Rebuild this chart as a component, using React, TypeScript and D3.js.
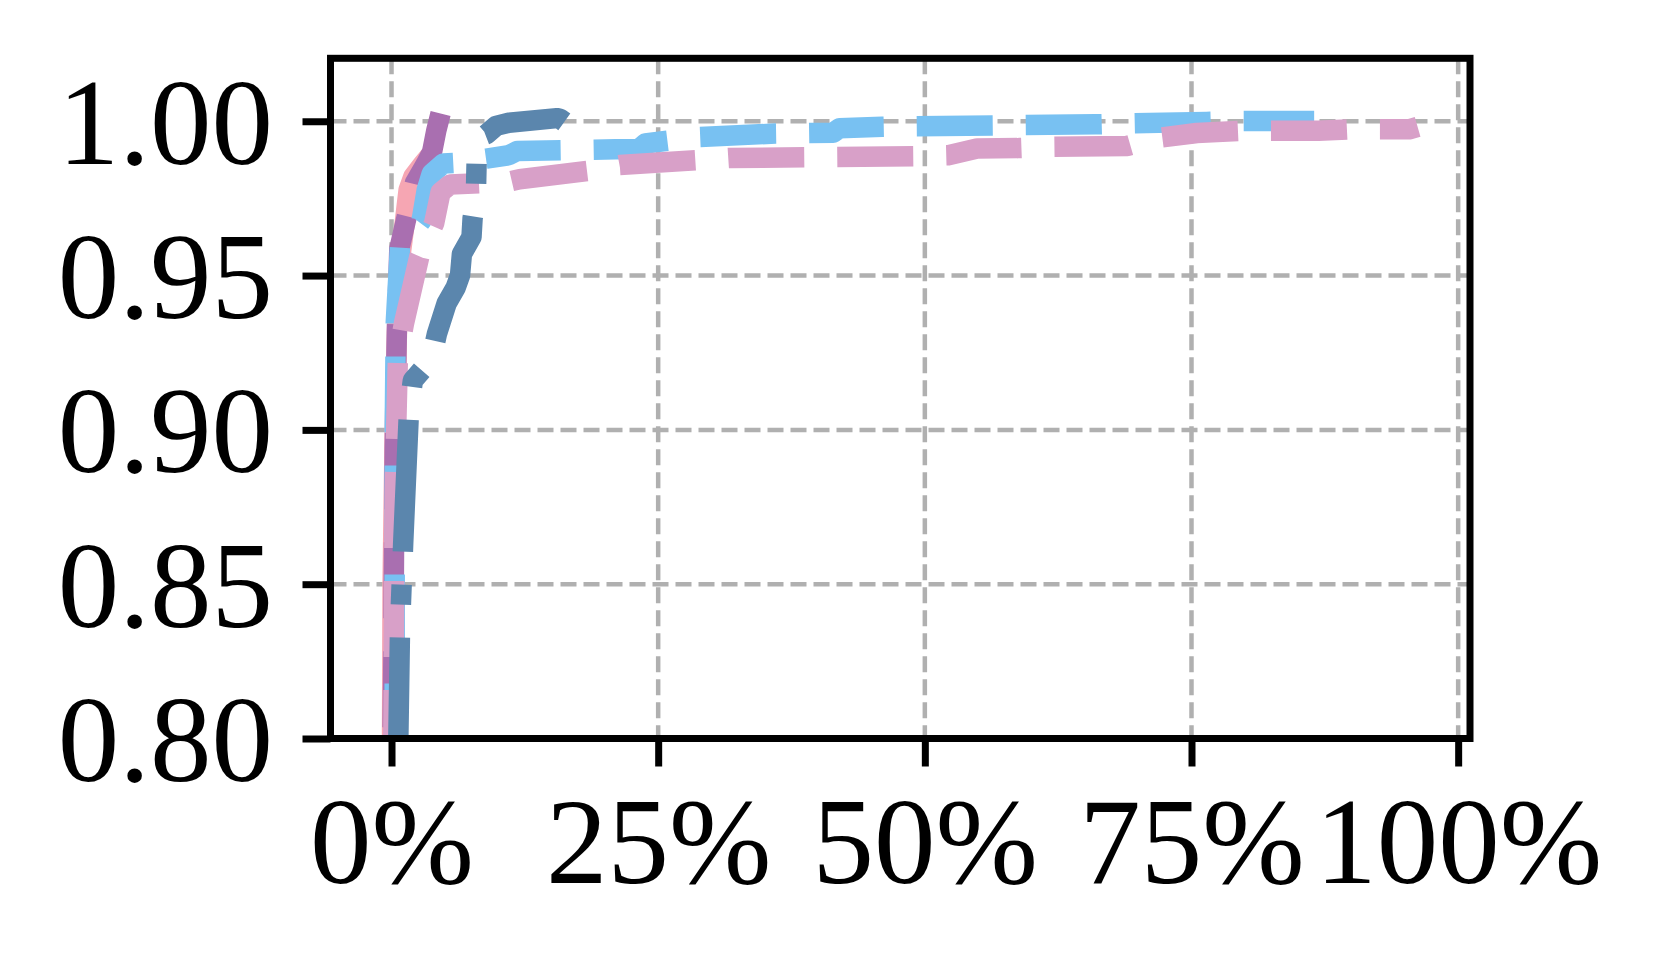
import React, { useEffect, useRef } from "react";
import * as d3 from "d3";

// x values are shares (0..1), y values are the measured level
const pinkX = [0.0005, 0.001, 0.003, 0.0055, 0.009, 0.0127, 0.016, 0.0205, 0.03, 0.038, 0.041];
const pinkY = [0.8, 0.85, 0.9, 0.9377, 0.958, 0.968, 0.9777, 0.982, 0.9863, 0.9896, 0.991];

const purpleX = [0.001, 0.0017, 0.0023, 0.003, 0.005, 0.0073, 0.0142, 0.022, 0.032, 0.038, 0.042, 0.046];
const purpleY = [0.8, 0.825, 0.859, 0.894, 0.932, 0.9586, 0.969, 0.98, 0.986, 0.99, 0.997, 1.0025];

const lightBlueX = [
  0.003, 0.003, 0.004, 0.008, 0.013, 0.024, 0.0283, 0.033, 0.0377, 0.0486, 0.0595, 0.089, 0.11, 0.118,
  0.21, 0.232, 0.238, 0.287, 0.36, 0.414, 0.42, 0.46, 0.49, 0.66, 0.694, 0.764, 0.795, 0.865,
];
const lightBlueY = [
  0.8, 0.9, 0.935, 0.9598, 0.963, 0.966, 0.968, 0.9777, 0.983, 0.9863, 0.9865, 0.9879, 0.989, 0.9904,
  0.9909, 0.991, 0.9928, 0.9949, 0.996, 0.9963, 0.9977, 0.9982, 0.9984, 0.999, 0.9993, 0.9998, 1.0001, 1.0001,
];

const lavenderX = [
  0.0017, 0.003, 0.006, 0.0117, 0.026, 0.04, 0.046, 0.055, 0.086, 0.105, 0.12, 0.186, 0.214, 0.286,
  0.317, 0.49, 0.522, 0.549, 0.588, 0.62, 0.69, 0.714, 0.755, 0.799, 0.869, 0.899, 0.954, 0.962,
];
const lavenderY = [
  0.8, 0.88, 0.9237, 0.9345, 0.956, 0.967, 0.977, 0.9795, 0.98, 0.98, 0.9812, 0.984, 0.9858, 0.9874,
  0.9881, 0.9887, 0.989, 0.9912, 0.9913, 0.9917, 0.992, 0.9944, 0.9962, 0.9969, 0.9969, 0.9974, 0.9974, 0.9982,
];

const steelX = [
  0.0064, 0.008, 0.0095, 0.011, 0.0164, 0.02, 0.03, 0.038, 0.0425, 0.0517, 0.06, 0.0642, 0.066, 0.075,
  0.076, 0.079, 0.08, 0.083, 0.089, 0.098, 0.11, 0.155, 0.158, 0.162,
];
const steelY = [
  0.8, 0.836, 0.85, 0.8637, 0.9064, 0.916, 0.92, 0.924, 0.931, 0.941, 0.946, 0.95, 0.957, 0.9625,
  0.9685, 0.975, 0.99, 0.995, 0.9958, 0.9985, 0.9995, 1.001, 1.0008, 0.9998,
];

const xTicks = [0, 0.25, 0.5, 0.75, 1];
const yTicks = [0.8, 0.85, 0.9, 0.95, 1.0];

// anchor: a dash starts where the path first reaches this share on x ("end" = a dash ends at the path end)
const series = [
  { name: "pink", xs: pinkX, ys: pinkY, color: "#f6a6b3", dash: null, anchor: null },
  { name: "purple", xs: purpleX, ys: purpleY, color: "#a96fb0", dash: [76, 33], anchor: "end" },
  { name: "lightblue", xs: lightBlueX, ys: lightBlueY, color: "#78c1f2", dash: [76, 33], anchor: 0.4922 },
  { name: "lavender", xs: lavenderX, ys: lavenderY, color: "#d8a0c8", dash: [76, 33], anchor: 0.5199 },
  { name: "steel", xs: steelX, ys: steelY, color: "#5b86ad", dash: [132, 33, 20, 33], anchor: 0.0876 },
];

const App = () => {
  const ref = useRef<SVGSVGElement>(null);

  useEffect(() => {
    const width = 1661;
    const height = 967;
    const left = 330.5;
    const right = 1470;
    const top = 58.3;
    const bottom = 738.5;

    const x = d3.scaleLinear().domain([-0.0572, 1.0111]).range([left, right]);
    const y = d3.scaleLinear().domain([0.8, 1.0204]).range([bottom, top]);

    const svg = d3.select(ref.current).attr("width", width).attr("height", height);
    svg.selectAll("*").remove();

    svg
      .append("defs")
      .append("clipPath")
      .attr("id", "plotclip")
      .append("rect")
      .attr("x", left)
      .attr("y", top)
      .attr("width", right - left)
      .attr("height", bottom - top);

    // grid
    const grid = svg.append("g").attr("stroke", "#b0b0b0").attr("stroke-width", 4.5).attr("stroke-dasharray", "16,7");
    grid
      .selectAll("line.gx")
      .data(xTicks)
      .join("line")
      .attr("class", "gx")
      .attr("x1", (d) => x(d))
      .attr("x2", (d) => x(d))
      .attr("y1", top)
      .attr("y2", bottom);
    grid
      .selectAll("line.gy")
      .data(yTicks)
      .join("line")
      .attr("class", "gy")
      .attr("x1", left)
      .attr("x2", right)
      .attr("y1", (d) => y(d))
      .attr("y2", (d) => y(d));

    // lines
    const line = d3.line<[number, number]>();
    const plot = svg.append("g").attr("clip-path", "url(#plotclip)");
    series.forEach((s) => {
      const pts: [number, number][] = s.xs.map((v, i) => [x(v), y(s.ys[i])]);
      const p = plot
        .append("path")
        .attr("d", line(pts))
        .attr("fill", "none")
        .attr("stroke", s.color)
        .attr("stroke-width", 20.5)
        .attr("stroke-linejoin", "round")
        .attr("stroke-linecap", "butt");
      if (s.dash) {
        const period = d3.sum(s.dash);
        const node = p.node() as SVGPathElement;
        const total = node.getTotalLength();
        let offset = 0;
        if (s.anchor === "end") {
          offset = (((s.dash[0] - total) % period) + period) % period;
        } else if (typeof s.anchor === "number") {
          const target = x(s.anchor);
          let at = 0;
          for (let l = 0; l <= total; l += 0.5) {
            if (node.getPointAtLength(l).x >= target) {
              at = l;
              break;
            }
          }
          offset = ((-at % period) + period) % period;
        }
        p.attr("stroke-dasharray", s.dash.join(",")).attr("stroke-dashoffset", offset);
      }
    });

    // axes
    const yAxis = d3
      .axisLeft(y)
      .tickValues(yTicks)
      .tickSize(28)
      .tickPadding(29.5)
      .tickFormat(d3.format(".2f"));
    const xAxis = d3
      .axisBottom(x)
      .tickValues(xTicks)
      .tickSize(28)
      .tickPadding(29)
      .tickFormat(d3.format(".0%"));

    const gy = svg.append("g").attr("transform", `translate(${left},0)`).call(yAxis);
    gy.select(".domain").remove();
    gy.selectAll(".tick line").attr("stroke", "#000").attr("stroke-width", 7);
    gy.selectAll(".tick text")
      .attr("font-family", "'Liberation Serif', 'Times New Roman', serif")
      .attr("font-size", 123)
      .attr("fill", "#000")
      .attr("dy", "0.34em");

    const gx = svg.append("g").attr("transform", `translate(0,${bottom})`).call(xAxis);
    gx.select(".domain").remove();
    gx.selectAll(".tick line").attr("stroke", "#000").attr("stroke-width", 7);
    gx.selectAll(".tick text")
      .attr("font-family", "'Liberation Serif', 'Times New Roman', serif")
      .attr("font-size", 123)
      .attr("fill", "#000");

    // frame
    svg
      .append("rect")
      .attr("x", left)
      .attr("y", top)
      .attr("width", right - left)
      .attr("height", bottom - top)
      .attr("fill", "none")
      .attr("stroke", "#000")
      .attr("stroke-width", 7);
  }, []);

  return (
    <div style={{ position: "absolute", left: 0, top: 0, background: "#fff" }}>
      <svg ref={ref}></svg>
    </div>
  );
};

export default App;
